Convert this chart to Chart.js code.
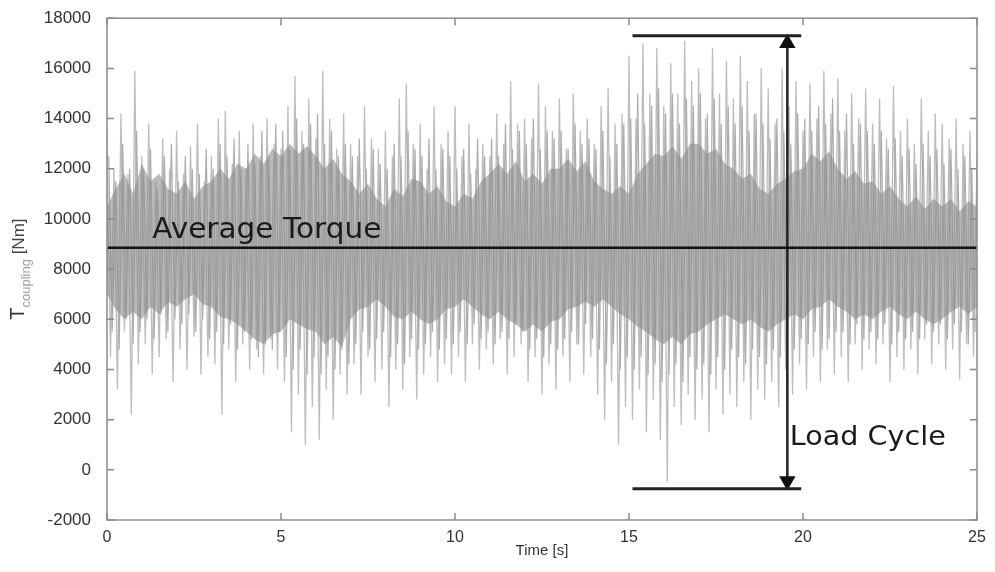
<!DOCTYPE html>
<html>
<head>
<meta charset="utf-8">
<script src="https://cdn.jsdelivr.net/npm/chart.js@4.4.1/dist/chart.umd.min.js"></script>
<style>
  html, body { margin: 0; padding: 0; background: #fff; }
  canvas { display: block; }
</style>
</head>
<body>
<canvas id="torque" width="995" height="572"></canvas>
<script>
// sample spacing of the read-off values (s)
const spikeStep = 0.1;
const coreStep = 0.25;

// large spikes: upper tips at t = 0, 0.2 ... 25 (Nm)
const spikeHigh = [
  13500, 12000, 14200, 11800, 15900,
  12500, 13800, 11500, 13200, 12000,
  13500, 11800, 12900, 13800, 11500,
  12500, 14000, 14300, 12200, 13500,
  12000, 13800, 12500, 14000, 13000,
  12800, 14500, 15700, 13500, 14800,
  13200, 15900, 14000, 12800, 14200,
  13000, 12500, 14500, 13200, 12800,
  13500, 12500, 14800, 15400, 13000,
  13800, 12000, 14500, 13000, 13500,
  14500, 12500, 13800, 12000, 13000,
  12500, 14200, 13000, 15500, 13800,
  14000, 13200, 15400, 14500, 13500,
  14800, 12800, 15000, 13500, 14000,
  13000, 14500, 15200, 13800, 14200,
  16500, 14000, 17000, 15000, 16800,
  14500, 16200, 15000, 17100, 15500,
  16000, 14000, 16800, 15000, 16300,
  14800, 16500, 15500, 14200, 16000,
  15200, 13800, 16000, 14500, 15500,
  13500, 15400, 14000, 15900, 14200,
  15600, 13500, 15000, 14000, 15200,
  13800, 14800, 13200, 15300, 13500,
  14000, 13000, 14800, 13500, 14200,
  13800, 13200, 14000, 13000, 13500,
  12500
];
// large spikes: lower tips at t = 0.1, 0.3 ... 24.9 (Nm)
const spikeLow = [
  4500, 3200, 5500, 2200, 4200,
  5000, 3800, 4500, 5200, 3500,
  4800, 4000, 5300, 3800, 4500,
  4200, 2200, 4800, 3500, 5000,
  4000, 4800, 3800, 5200, 4000,
  3500, 1500, 3000, 1000, 2500,
  1200, 3200, 2000, 3800, 3000,
  4200, 3000, 4500, 3500, 4000,
  2500, 4000, 3200, 4500, 2800,
  3800, 4500, 3500, 4200, 3800,
  4500, 3500, 5000, 4000, 4800,
  4200, 5200, 3800, 4500, 5000,
  3500, 4500, 3000, 4200, 3200,
  4500, 3500, 5000, 3800, 4500,
  3000, 2000, 3500, 1000, 2500,
  2000, 3200, 1500, 2800, 1200,
  -500, 2500, 1800, 3000, 2000,
  2800, 1500, 3200, 2200, 3000,
  2500, 3500, 2000, 3200, 2800,
  3500, 2500, 4000, 3000, 4200,
  3200, 4500, 3500, 4800, 3800,
  4500, 3500, 5000, 4000, 4800,
  4200, 5000, 3500, 4500, 4000,
  4800, 3800, 5200, 4200, 5000,
  4000, 4800, 3600, 5000, 4500
];

// medium spikes: upper tips at t = 0.05, 0.25 ... 24.85 (Nm)
const midHigh = [
  12500, 11500, 13000, 12000, 13500,
  12000, 12800, 11200, 12500, 13000,
  11500, 12500, 12000, 11800, 12800,
  12000, 13000, 12500, 13200, 12000,
  13000, 12200, 13500, 12500, 13800,
  13500, 12800, 14000, 13000, 13800,
  14200, 13000, 13500, 12500, 13000,
  12500, 13200, 12000, 12800, 12200,
  12000, 13000, 12500, 13500, 12800,
  12500, 13200, 12000, 12800, 12500,
  12000, 12800, 11800, 13200, 12500,
  13200, 12500, 13800, 12800, 13500,
  13000, 14000, 12800, 13500, 13200,
  13500, 12800, 13800, 13000, 13200,
  12800, 13500, 12500, 13000, 13800,
  14000, 15000, 13800, 14500, 15200,
  14200, 15000, 13800, 14800, 14500,
  15000, 14200, 14800, 13800, 14500,
  13800, 14500, 13500, 14200, 13800,
  13200, 14000, 13500, 13000, 14200,
  14000, 13500, 14500, 13800, 14800,
  13500, 14200, 13000, 13800, 13500,
  13000, 13500, 12800, 13200, 12500,
  12800, 12200, 13000, 12500, 12800,
  12200, 12800, 12000, 12500, 12000
];
// medium spikes: lower tips at t = 0.15, 0.35 ... 24.95 (Nm)
const midLow = [
  5500, 4800, 6000, 5000, 5500,
  6000, 5200, 6200, 5500, 6000,
  5800, 6200, 5500, 6000, 5200,
  5500, 5000, 5800, 4800, 5500,
  5200, 4500, 5000, 4800, 5500,
  4500, 4000, 4800, 3800, 4500,
  3800, 4500, 4000, 4800, 4200,
  5000, 5500, 4800, 5200, 5500,
  4500, 5000, 4200, 5200, 4800,
  5000, 5500, 4800, 5200, 5000,
  5500, 5000, 5800, 5200, 5500,
  5000, 5500, 5200, 5800, 5500,
  4800, 5200, 4500, 5000, 4800,
  5200, 5500, 5000, 5800, 5200,
  4800, 4200, 5000, 4000, 4500,
  4000, 4500, 3800, 4200, 3500,
  3800, 4200, 3500, 4500, 4000,
  4200, 3800, 4500, 4000, 4800,
  4500, 4200, 4800, 4500, 4200,
  4800, 4500, 5000, 4800, 5200,
  5000, 5500, 4800, 5200, 5500,
  5500, 5000, 5800, 5200, 5500,
  5200, 5800, 5000, 5500, 5200,
  5500, 5200, 5800, 5500, 5800,
  5200, 5800, 5500, 5000, 5500
];

// dense dark core of the signal, every 0.25 s (Nm)
const coreTop = [
  10500, 11200, 11800, 11000, 12200, 11500, 11800, 11200, 11000, 11500,
  10800, 11300, 11500, 12000, 11600, 12200, 12000, 12600, 12200, 12800,
  12500, 13000, 12600, 12900, 12500, 12000, 12400, 11800, 11500, 11000,
  11400, 10800, 10500, 11200, 10900, 11600, 11500, 11000, 11300, 10700,
  10500, 11000, 10800, 11500, 11800, 12200, 11800, 12300, 11500, 11800,
  11400, 12000, 12000, 12400, 11900, 12300, 11500, 11200, 11000, 11300,
  11000, 11800, 12200, 12600, 12500, 12900, 12400, 13000, 13000, 12600,
  12800, 12200, 12000, 11600, 11800, 11200, 11000, 11400, 11600, 11900,
  12000, 12600, 12300, 12700, 12000, 11600, 11900, 11400, 11500, 11000,
  11300, 10800, 10500, 10900, 10400, 10800, 10500, 10800, 10300, 10700,
  10500
];
const coreBottom = [
  7000, 6400, 6000, 6300, 6000, 6500, 6200, 6700, 6500, 6800,
  7000, 6600, 6500, 6100, 6000, 5800, 5500, 5200, 5000, 5400,
  5500, 6000, 5800, 5600, 5500, 5000, 5300, 4900, 6000, 6400,
  6500, 6800, 6500, 6100, 6000, 6300, 6000, 5800, 6000, 6400,
  6500, 6800, 6500, 6200, 6000, 6300, 6000, 5800, 5500, 5800,
  5500, 5900, 6000, 6400, 6500, 6700, 6500, 6800, 6500, 6200,
  6000, 5700, 5500, 5200, 5000, 5300, 5000, 5400, 5500, 5800,
  6000, 6200, 6000, 5800, 6000, 5700, 5500, 5800, 6000, 6200,
  6000, 6400, 6500, 6800, 6500, 6300, 6000, 6200, 6000, 6300,
  6500, 6200, 6000, 6300, 6000, 5800, 6000, 6300, 6500, 6200,
  6500
];

const averageTorque = 8850;
// load cycle marker: bar span, arrow time, max / min (Nm)
const cycleStart = 15.1;
const cycleEnd = 19.95;
const cycleArrowAt = 19.55;
const cycleMax = 17300;
const cycleMin = -750;

const xTicks = [0, 5, 10, 15, 20, 25];
const yTicks = [-2000, 0, 2000, 4000, 6000, 8000, 10000, 12000, 14000, 16000, 18000];

function zigzag(highs, lows, t0) {
  const pts = [];
  for (let i = 0; i < highs.length + lows.length; i++) {
    const y = i % 2 === 0 ? highs[i / 2] : lows[(i - 1) / 2];
    pts.push({ x: +(t0 + i * spikeStep).toFixed(3), y });
  }
  return pts;
}
const spikes = zigzag(spikeHigh, spikeLow, 0);
const midSpikes = zigzag(midHigh, midLow, 0.05);
const coreUp = coreTop.map((v, i) => ({ x: i * coreStep, y: v }));
const coreDown = coreBottom.map((v, i) => ({ x: i * coreStep, y: v }));

// frame, inward ticks, y title and the two labels
const decorations = {
  id: 'decorations',
  afterDatasetsDraw(chart) {
    const { ctx, chartArea: a, scales } = chart;
    const xs = scales.x, ys = scales.y;
    ctx.save();
    ctx.strokeStyle = '#8a8a8a';
    ctx.lineWidth = 1.5;
    ctx.strokeRect(a.left, a.top, a.right - a.left, a.bottom - a.top);
    ctx.beginPath();
    xTicks.forEach(t => {
      const px = xs.getPixelForValue(t);
      ctx.moveTo(px, a.bottom); ctx.lineTo(px, a.bottom - 7);
      ctx.moveTo(px, a.top); ctx.lineTo(px, a.top + 7);
    });
    yTicks.forEach(t => {
      const py = ys.getPixelForValue(t);
      ctx.moveTo(a.left, py); ctx.lineTo(a.left + 7, py);
      ctx.moveTo(a.right, py); ctx.lineTo(a.right - 7, py);
    });
    ctx.stroke();

    ctx.fillStyle = '#1a1a1a';
    ctx.textBaseline = 'alphabetic';
    ctx.textAlign = 'left';
    const label = (txt, size, stretch, t, v) => {
      ctx.save();
      ctx.translate(xs.getPixelForValue(t), ys.getPixelForValue(v));
      ctx.scale(stretch, 1);
      ctx.font = size + 'px "DejaVu Sans"';
      ctx.fillText(txt, 0, 0);
      ctx.restore();
    };
    label('Average Torque', 28, 1.055, 1.3, 9250);
    label('Load Cycle', 27, 1.06, 19.62, 1000);

    // y axis title with subscript
    ctx.translate(24, (a.top + a.bottom) / 2);
    ctx.rotate(-Math.PI / 2);
    const parts = [
      { t: 'T', f: '20px "Liberation Sans"', c: '#333', dy: 0 },
      { t: 'coupling', f: '13px "Liberation Sans"', c: '#a0a0a0', dy: 6 },
      { t: ' [Nm]', f: '17px "Liberation Sans"', c: '#444', dy: 0 }
    ];
    let w = 0;
    parts.forEach(p => { ctx.font = p.f; w += ctx.measureText(p.t).width; });
    let x0 = -w / 2;
    parts.forEach(p => {
      ctx.font = p.f;
      ctx.fillStyle = p.c;
      ctx.fillText(p.t, x0, p.dy);
      x0 += ctx.measureText(p.t).width;
    });
    ctx.restore();
  }
};

new Chart(document.getElementById('torque'), {
  type: 'line',
  data: {
    datasets: [
      {
        label: 'Average',
        data: [{ x: 0, y: averageTorque }, { x: 25, y: averageTorque }],
        borderColor: '#111', borderWidth: 2.5, pointRadius: 0, order: 0
      },
      {
        label: 'Cycle max',
        data: [{ x: cycleStart, y: cycleMax }, { x: cycleEnd, y: cycleMax }],
        borderColor: '#222', borderWidth: 3, pointRadius: 0, order: 0
      },
      {
        label: 'Cycle min',
        data: [{ x: cycleStart, y: cycleMin }, { x: cycleEnd, y: cycleMin }],
        borderColor: '#222', borderWidth: 3, pointRadius: 0, order: 0
      },
      {
        label: 'Arrow',
        data: [{ x: cycleArrowAt, y: cycleMax - 300 }, { x: cycleArrowAt, y: cycleMin + 300 }],
        borderColor: '#222', borderWidth: 2.5,
        pointStyle: 'triangle', pointRadius: 7, pointRotation: [0, 180],
        pointBackgroundColor: '#111', pointBorderColor: '#111', order: 0
      },
      {
        label: 'Core top',
        data: coreUp,
        borderWidth: 0, pointRadius: 0,
        backgroundColor: 'rgba(140,140,140,0.6)', fill: '+1', order: 1
      },
      {
        label: 'Core bottom',
        data: coreDown,
        borderWidth: 0, pointRadius: 0, fill: false, order: 1
      },
      {
        label: 'T coupling medium',
        data: midSpikes,
        borderColor: '#acacac', borderWidth: 1.2, pointRadius: 0, order: 2
      },
      {
        label: 'T coupling',
        data: spikes,
        borderColor: '#bdbdbd', borderWidth: 1.3, pointRadius: 0, order: 3
      }
    ]
  },
  options: {
    responsive: false,
    animation: false,
    layout: { padding: { top: 16, right: 18, bottom: 0, left: 0 } },
    plugins: { legend: { display: false }, tooltip: { enabled: false } },
    elements: { line: { tension: 0 } },
    scales: {
      x: {
        type: 'linear', min: 0, max: 25,
        ticks: { stepSize: 5, color: '#333', font: { family: 'Liberation Sans', size: 16 }, padding: 0, maxRotation: 0,
          callback: v => String(v) },
        grid: { display: false }, border: { display: false },
        title: { display: true, text: 'Time [s]', color: '#333', font: { family: 'Liberation Sans', size: 15 }, padding: { top: 0, bottom: 12 } },
        afterFit: s => { s.height = 52; }
      },
      y: {
        min: -2000, max: 18000,
        ticks: { stepSize: 2000, color: '#333', font: { family: 'Liberation Sans', size: 17 }, padding: 8,
          callback: v => String(v) },
        grid: { display: false }, border: { display: false },
        afterFit: s => { s.width = 107; }
      }
    }
  },
  plugins: [decorations]
});
</script>
</body>
</html>
